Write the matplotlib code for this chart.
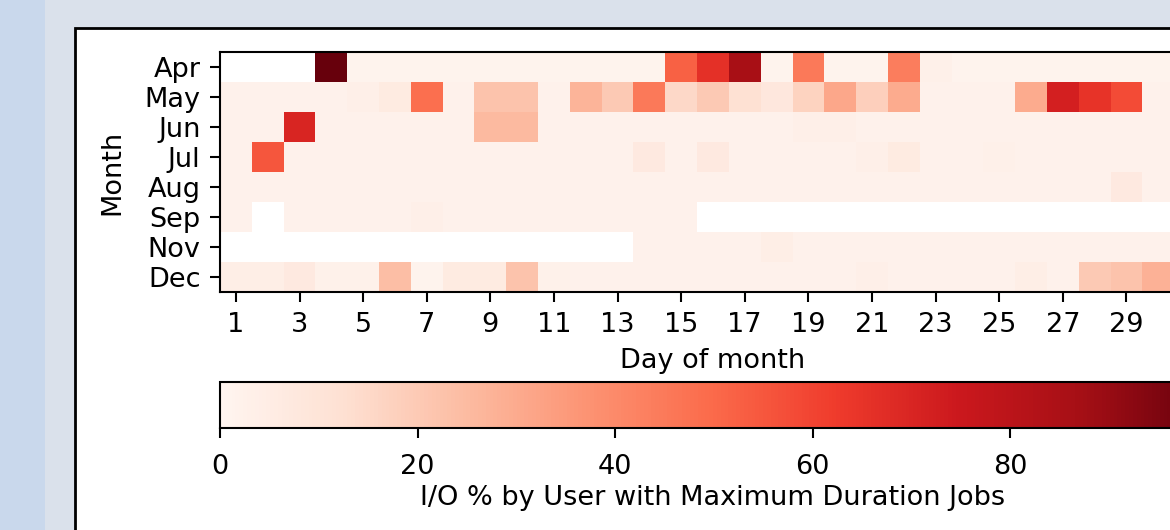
import numpy as np
import matplotlib
matplotlib.use("Agg")
import matplotlib.pyplot as plt
from matplotlib.patches import Rectangle

nan = np.nan

months = ["Apr", "May", "Jun", "Jul", "Aug", "Sep", "Nov", "Dec"]
days = list(range(1, 32))

# I/O % per day, one list per month (nan = no data)
apr = [nan, nan, nan, 99.8, 1.5, 1.5, 1.5, 1.5, 1.5, 1.5, 1.5, 1.5, 1.5, 1.5, 52, 66, 86, 1.5,
       45, 1.5, 1.5, 44, 3, 1.5, 1.5, 1.5, 1.5, 1.5, 1.5, 1.5, nan]
may = [2, 2, 2, 2, 3.5, 6, 48, 2, 22, 22, 2, 27, 20, 45, 15, 20, 12, 8, 17, 31, 18,
       30, 2, 2, 2, 30, 72, 65, 58, 2, 2]
jun = [2, 2, 70, 2, 2, 2, 2, 2, 25, 25, 2, 2, 2, 2, 2, 2, 2, 2, 3.5, 3.5, 2,
       2, 2, 2, 2, 2, 2, 2, 2, 2, nan]
jul = [2, 55, 2, 2, 2, 2, 2, 2, 2, 2, 2, 2, 2, 7, 2, 7, 2, 2, 2, 2, 3.5,
       6, 2, 2, 3, 2, 2, 2, 2, 2, 2]
aug = [2, 2, 2, 2, 2, 2, 2, 2, 2, 2, 2, 2, 2, 2, 2, 2, 2, 2, 2, 2, 2,
       2, 2, 2, 2, 2, 2, 2, 7, 2, 2]
sep = [2, nan, 2, 2, 2, 2, 3.5, 2, 2, 2, 2, 2, 2, 2, 2, nan, nan, nan, nan, nan, nan,
       nan, nan, nan, nan, nan, nan, nan, nan, nan, nan]
nov = [nan, nan, nan, nan, nan, nan, nan, nan, nan, nan, nan, nan, nan, 2, 2, 2, 2, 4, 2, 2, 2,
       2, 2, 2, 2, 2, 2, 2, 2, 2, nan]
dec = [4, 4, 7, 2.5, 2.5, 24, 1.5, 6, 6, 22, 2.5, 2, 2, 2, 2, 2, 2, 2, 2, 2, 3.5,
       2, 2, 2, 2, 4, 2, 20, 22, 28, 2]

grid = np.array([apr, may, jun, jul, aug, sep, nov, dec])

W, H = 1170, 530
fs = 19.5

fig = plt.figure(figsize=(W / 100, H / 100), dpi=100)
fig.patch.set_facecolor("#dae1eb")

# window chrome behind the plot
fig.patches.append(Rectangle((0, 0), 45 / W, 1, transform=fig.transFigure,
                             facecolor="#c9d8ec", edgecolor="none", zorder=-2))
fig.patches.append(Rectangle((75 / W, -0.1), 1.2, (H - 28) / H + 0.1, transform=fig.transFigure,
                             facecolor="white", edgecolor="black", lw=2, zorder=-1))

ax = fig.add_axes([220 / W, (H - 292) / H, (1206 - 220) / W, 240 / H])
im = ax.imshow(grid, cmap="Reds", aspect="auto", interpolation="nearest",
               vmin=0, vmax=np.nanmax(grid))
ax.set_yticks(range(len(months)))
ax.set_yticklabels(months)
ax.set_xticks(range(0, 30, 2))
ax.set_xticklabels([str(d) for d in days[:30:2]])
ax.tick_params(labelsize=fs, length=7, width=1.5)
ax.tick_params(axis="x", pad=7.5)
ax.tick_params(axis="y", pad=7)
ax.set_ylabel("Month", fontsize=fs, labelpad=14)
ax.set_xlabel("Day of month", fontsize=fs, labelpad=7)
for s in ax.spines.values():
    s.set_linewidth(1.5)

cax = fig.add_axes([220 / W, (H - 428) / H, (1206 - 220) / W, 46 / H])
cbar = fig.colorbar(im, cax=cax, orientation="horizontal")
cbar.set_label("I/O % by User with Maximum Duration Jobs", fontsize=fs, labelpad=3)
cbar.ax.tick_params(labelsize=fs, length=7, width=1.5, pad=12)
cbar.outline.set_linewidth(1.5)

fig.savefig("out.png", dpi=100, facecolor=fig.get_facecolor())
